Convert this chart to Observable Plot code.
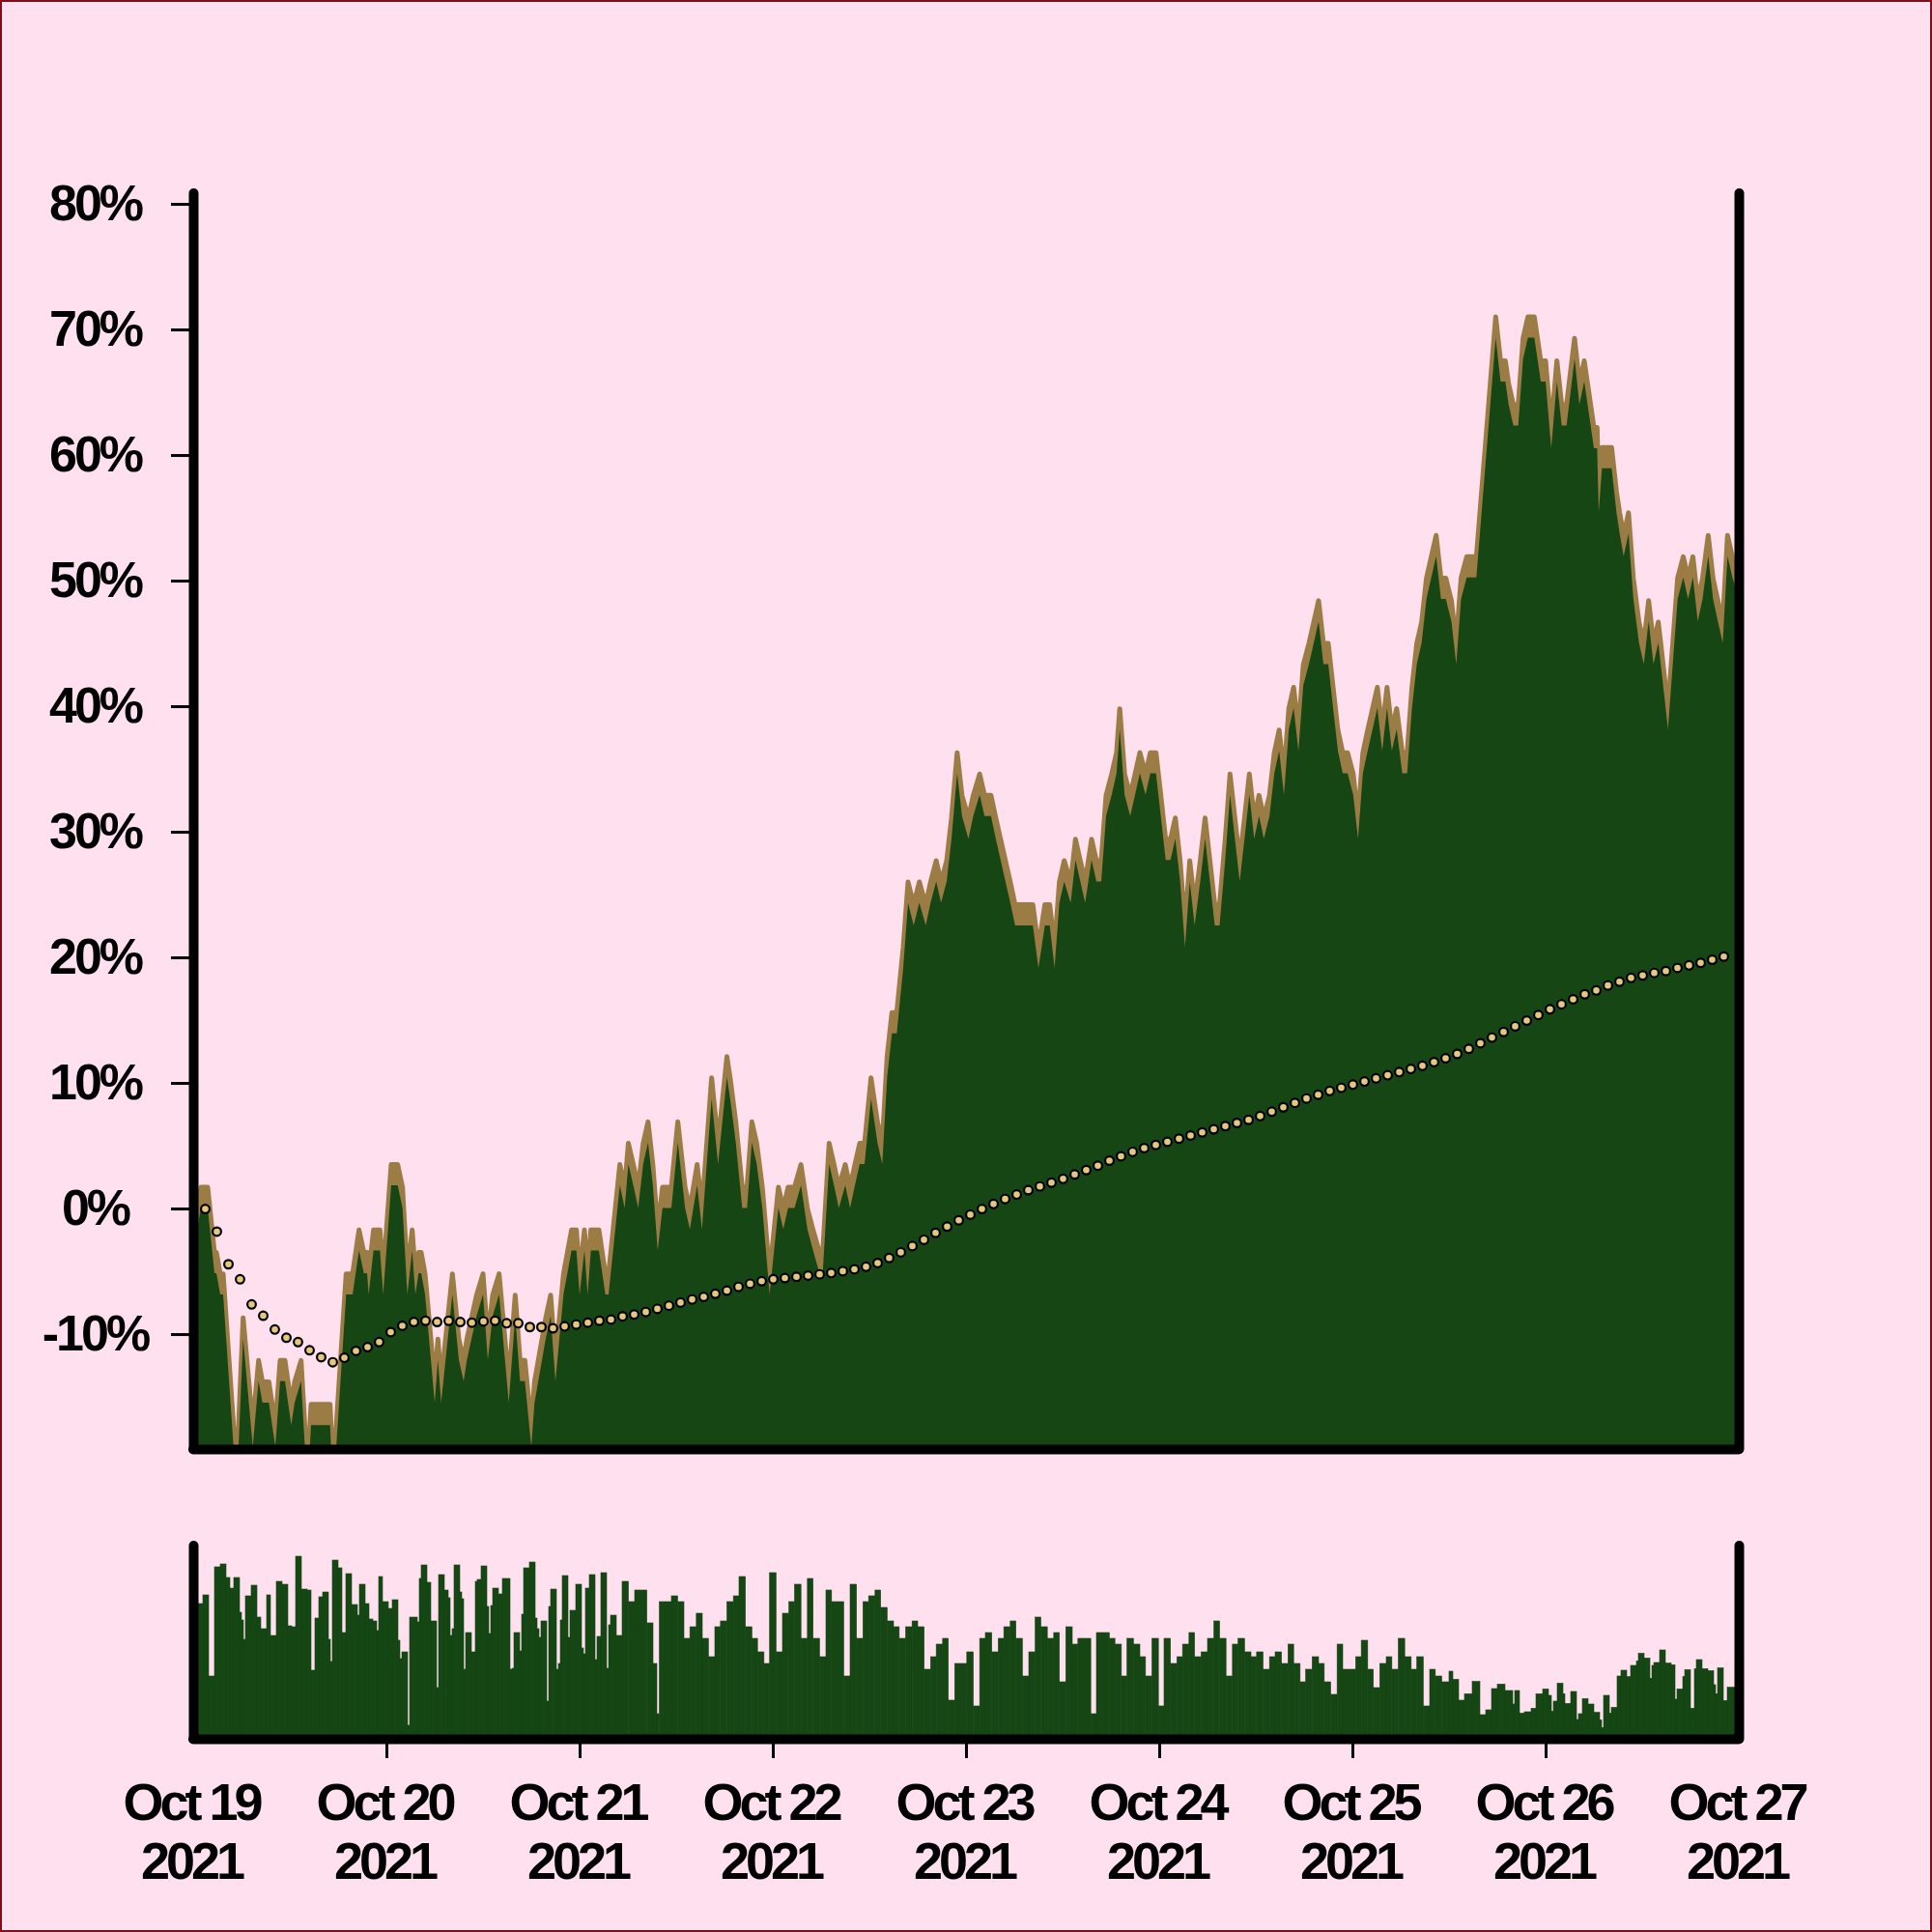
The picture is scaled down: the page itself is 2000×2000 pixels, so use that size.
<!DOCTYPE html>
<html><head><meta charset="utf-8">
<script src="https://cdn.jsdelivr.net/npm/d3@7"></script>
<script src="https://cdn.jsdelivr.net/npm/@observablehq/plot@0.6"></script>
<style>
html,body{margin:0;padding:0;background:#ffe0ef;}
#chart{position:relative;width:2000px;height:2000px;box-sizing:border-box;border:2px solid #7d0f1c;background:#ffe0ef;overflow:hidden;}
#main{position:absolute;left:-2px;top:-2px;}
#vol{position:absolute;left:-2px;top:1528px;}
</style></head>
<body><div id="chart"><div id="main"></div><div id="vol"></div></div>
<script>
// ---- data (hours after 2021-10-19 00:00 UTC) ----
const priceHours = [0,0.96,1.8,2.64,2.88,3.36,3.72,5.4,6.2,7.4,8.12,8.6,9.4,10.2,10.8,11.4,12.18,12.6,13.4,14.2,14.64,17.0,17.4,19.0,19.8,20.6,21.2,21.6,21.8,22.4,23.2,23.6,24.6,25.4,26.0,26.6,27.2,27.6,28.0,28.32,28.8,30.0,30.4,30.8,32.2,33.0,33.6,34.0,35.2,36.0,36.6,37.2,38.0,39.2,40.0,40.6,41.2,42.0,42.4,43.8,44.4,45.0,46.0,47.0,47.6,48.0,48.6,49.0,49.4,50.4,51.2,51.6,53.0,53.6,
54.06,54.67,55.28,55.9,56.5,57.1,57.7,58.3,59.4,60.2,61.1,61.7,62.6,63.2,64.4,65.2,66.3,66.7,67.4,68.2,68.8,69.4,70.0,70.7,71.6,72.7,73.3,73.9,74.7,75.5,76.3,77.0,77.8,78.2,79.0,79.6,80.2,81.0,81.6,82.2,82.8,83.4,84.2,85.0,85.6,86.2,86.8,87.4,88.2,88.8,89.5,90.2,91.0,91.6,92.3,92.9,93.6,94.2,94.9,95.5,96.3,96.9,97.7,98.3,99.1,99.7,100.3,100.9,101.5,102.1,104.3,105.0,105.8,106.4,107.0,107.6,108.2,109.0,109.6,110.2,110.8,111.6,112.2,112.8,113.4,114.1,114.7,115.1,115.7,116.4,117.0,117.6,118.3,118.9,119.6,120.2,120.8,121.4,122.0,122.6,123.2,123.8,124.4,125.1,125.7,126.3,126.9,127.5,128.2,128.8,129.4,130.0,130.6,131.2,131.8,132.4,133.0,133.7,134.3,134.9,135.5,136.1,136.7,137.3,137.9,138.6,139.2,139.8,140.4,141.0,141.6,142.2,142.8,143.4,144.1,144.7,145.3,145.9,146.5,147.1,147.7,148.3,148.9,149.5,150.2,150.8,151.4,152.0,152.6,153.2,153.8,154.4,155.0,155.6,156.3,156.9,157.5,158.2,159.4,161.8,162.4,163.0,163.4,164.0,164.6,165.2,165.8,166.6,167.4,168.0,168.7,169.4,170.0,170.6,171.6,172.2,172.8,174.0,174.4,174.6,175.0,176.2,176.8,177.2,177.7,178.3,178.9,179.6,180.2,180.8,181.4,182.0,182.6,183.2,183.8,184.4,185.1,185.7,186.3,186.9,187.5,188.2,188.8,189.4,190.0,190.6,191.2,192.0];
const priceReturns = [-1.7,1.7,1.7,-3.5,-3.5,-5.2,-5.2,-21,-8.7,-17.3,-12.1,-13.8,-13.8,-17.3,-12.1,-12.1,-15.6,-13.8,-12.1,-21,-15.6,-15.6,-21,-5.2,-5.2,-1.7,-3.5,-3.5,-5.2,-1.7,-1.7,-5.2,3.5,3.5,1.7,-5.2,-1.7,-5.2,-3.5,-3.5,-5.2,-13.8,-10.4,-13.8,-5.2,-10.4,-12.1,-10.4,-6.9,-5.2,-10.4,-6.9,-5.2,-13.8,-6.9,-12.1,-12.1,-17.3,-13.8,-8.7,-6.9,-12.1,-5.2,-1.7,-1.7,-5.2,-1.7,-5.2,-1.7,-1.7,-5.2,-5.2,3.5,1.7,
5.2,3.5,1.7,5.2,6.9,3.5,-1.7,1.7,1.7,6.9,1.7,0,3.5,0,10.4,5.2,12.1,10.4,6.9,1.7,1.7,6.9,5.2,1.7,-5.2,1.7,0,1.7,1.7,3.5,0,-1.7,-3.5,-3.5,5.2,3.5,1.7,3.5,1.7,3.5,5.2,5.2,10.4,6.9,5.2,12.1,15.6,15.6,20.8,26.0,24.2,26.0,24.2,26.0,27.7,26.0,27.7,31.1,36.3,32.9,31.1,32.9,34.6,32.9,32.9,31.1,29.4,27.7,26.0,24.2,24.2,20.8,24.2,24.2,20.8,26.0,27.7,26.0,29.4,27.7,26.0,29.4,27.7,27.7,32.9,34.6,36.3,39.8,34.6,32.9,34.6,36.3,34.6,36.3,36.3,32.9,29.4,29.4,31.1,27.7,22.5,27.7,24.2,27.7,31.1,27.7,24.2,24.2,29.4,34.6,31.1,27.7,31.1,34.6,31.1,32.9,31.1,32.9,36.3,38.1,34.6,39.8,41.5,38.1,43.3,45.0,46.7,48.4,45.0,45.0,41.5,38.1,36.3,36.3,34.6,31.1,36.3,38.1,39.8,41.5,38.1,41.5,38.1,39.8,36.3,36.3,41.5,45.0,46.7,50.2,51.9,53.6,50.2,50.2,48.4,45.0,50.2,51.9,51.9,71.0,67.5,67.5,65.7,64.0,64.0,69.3,71.0,71.0,67.5,67.5,62.2,67.5,64.0,64.0,69.3,65.7,67.5,62.2,62.2,57.1,60.6,60.6,57.1,55.4,53.6,55.4,50.2,46.7,45.0,48.4,45.0,46.7,43.3,39.8,45.0,50.2,51.9,50.2,51.9,48.4,50.2,53.6,50.2,48.4,46.7,53.6,51.9,50.2];

// dotted average line: one value every 1.44 h starting at 1.44 h
const avgStartHour = 1.44, avgStepHours = 1.44;
const avgReturns = [0.0,-1.8,-4.4,-5.6,-7.6,-8.5,-9.6,-10.25,-10.6,-11.25,-11.8,-12.2,-11.85,-11.3,-11.0,-10.6,-9.8,-9.3,-9.0,-8.9,-9.0,-8.9,-9.0,-9.05,-8.95,-8.9,-9.1,-9.1,-9.4,-9.4,-9.5,-9.35,-9.2,-9.05,-8.9,-8.8,-8.55,
-8.4,-8.2,-7.95,-7.7,-7.45,-7.2,-7.0,-6.75,-6.5,-6.2,-5.95,-5.75,-5.6,-5.5,-5.4,-5.3,-5.2,-5.1,-4.95,-4.8,-4.6,-4.3,-3.9,-3.45,-2.95,-2.45,-1.9,-1.4,-0.9,-0.45,0.0,0.4,0.8,1.15,1.5,1.8,2.1,2.4,2.75,3.1,3.45,3.85,4.2,4.55,4.85,5.1,5.35,5.6,5.85,6.1,6.35,6.6,6.85,7.1,7.4,7.75,8.1,8.45,8.8,9.1,9.4,9.65,9.9,10.15,10.4,10.65,10.9,11.15,11.4,11.7,12.0,12.35,12.75,13.2,13.65,14.1,14.55,15.0,15.45,
15.9,16.3,16.7,17.1,17.4,17.8,18.1,18.4,18.6,18.8,18.95,19.2,19.4,19.6,19.85,20.1];

// volume (relative units, 0-100), each value lasts until the next start hour
const volumeHours = [0,1.2,1.92,2.64,3.36,4.08,4.56,5.04,5.76,6.0,6.24,6.48,7.2,7.92,8.4,9.12,9.6,10.32,11.04,11.76,12.24,12.72,13.44,14.16,14.64,15.12,15.6,16.08,16.8,17.04,17.28,18.0,18.48,18.96,19.68,20.4,20.64,21.36,21.84,22.32,22.8,23.04,23.52,24.24,24.72,25.44,25.68,25.92,26.64,26.88,27.84,28.08,28.32,29.04,29.52,30.24,30.48,31.2,31.68,31.92,32.16,32.4,33.12,33.36,33.6,33.84,34.56,35.04,35.28,35.76,36.48,36.72,36.96,37.2,37.92,38.4,39.36,39.6,39.84,40.56,40.8,41.04,41.76,42.48,42.72,42.96,43.2,43.92,44.16,44.4,45.12,45.36,45.6,45.84,46.56,46.8,47.52,48.24,48.48,48.72,49.2,49.92,50.16,50.64,51.36,51.6,51.84,52.56,53.28,
54.06,54.84,56.35,57.12,57.6,57.9,59.4,60.18,60.96,61.7,62.5,63.24,64.0,64.8,65.5,66.3,67.1,67.8,68.6,69.4,70.1,70.9,71.6,72.4,73.2,74.0,74.7,75.5,76.3,77.0,77.8,78.6,79.3,80.8,81.6,82.4,83.2,83.9,84.7,85.4,86.2,87.0,87.7,88.5,89.3,90.0,90.8,91.6,92.3,93.1,93.8,94.6,96.1,96.9,97.7,98.4,99.2,100.0,100.7,101.5,102.2,103.0,103.8,104.6,105.3,106.1,106.9,107.6,108.4,109.2,109.9,111.5,112.2,113.8,114.5,115.3,116.0,116.8,117.6,118.3,119.1,119.9,120.6,121.4,122.2,122.9,123.7,124.4,125.2,126.0,126.8,127.5,128.3,129.1,129.8,130.6,131.4,132.1,132.9,133.7,134.4,135.2,136.0,136.7,137.5,138.2,139.0,139.8,140.5,141.3,142.1,142.8,144.4,145.1,145.9,146.6,147.4,148.2,148.9,149.7,150.5,151.3,152.0,152.8,153.6,154.3,155.1,
156.0,156.48,157.2,157.92,158.88,159.84,160.56,161.28,162.0,162.96,163.92,164.16,164.76,165.36,166.2,166.8,167.64,168.36,168.72,168.96,169.44,170.16,170.4,171.12,171.84,172.08,172.56,173.28,174.0,174.72,174.96,175.2,175.92,176.16,176.88,177.36,178.08,178.56,179.28,179.52,180.24,180.96,181.2,181.44,182.16,182.88,183.6,184.08,184.32,185.04,185.28,186.0,186.48,186.72,187.44,188.16,188.88,189.12,189.36,190.08,190.56];
const volumeValues = [70,74.5,32.5,89,90.5,83.5,78,83.5,65.5,61.5,51.5,74,79.5,63,57,74.5,53.5,81.5,80,58.5,58,94.5,77.5,77,35.5,62.5,73.5,76,51.5,40,92.5,88.5,55,85.5,69.5,64,80,70,62,61,56,84,71,67.5,72,51,41.5,45,7,63,60.5,83,90,81,61,26.5,85,77,73,53.5,57,90,76,72.5,36,55,45,81.5,82.5,89.5,68.5,54.5,69,78,75,83,36,36.5,55,45.5,64.5,88.5,91.5,62.5,57,52.5,61,19.5,68.5,77.5,36,39,61.5,84.5,52.5,66.5,80,47,44,78,85,41,53,86,36.5,59,64,53.5,81.5,
71,77,60,39,13,71,74,71,52,58,65,52,42.5,58,61,71,74,84,58,52,45,39,86,45,65,71,80,52,83,52,42.5,77,71,32.5,80,52,71,74,77,68,61,58,52,58,61,58,36,42.5,49,52,20,39,45,17,52,55,45,52,58,61,52,32.5,45,63,58,52,55,29.5,58,49,52,13,55,52,49,32.5,52,49,42.5,32.5,52,17,52,39,42.5,49,55,42.5,45,52,61,52,32.5,49,52,45,42.5,45,36,42.5,45,39,49,39,29.5,36,42.5,39,29.5,23,49,36,42.5,51,36,26.5,39,42.5,36,52,42.5,36,42.5,17,36,32.5,29.5,
35,30.8,20,23.3,29.7,12.5,15,26,28.3,25,18,25,13.3,14,15.8,23.3,25.8,22.5,14.2,19.5,28.8,23.3,18.3,24.5,10,13,20.8,18,13.7,9.7,5.8,22.5,13.3,16.3,32.5,35.5,32.2,38,40.3,44.3,41.8,31.3,38,39.5,46,39.2,38.3,20.5,25.8,32.2,35.8,15.8,36.2,41,36.3,35.3,28,23.3,36.7,19.8,26.7];

const yTicks = [-10,0,10,20,30,40,50,60,70,80];
const tickDays = [19,20,21,22,23,24,25,26,27];
const yDomain = [-19.15, 80.85];
const totalHours = 192;

// ---- style ----
const green = "#154614", tan = "#9b7c45", dotFill = "#e7c77c", ink = "#000";
const band = 1.65;
const fontFamily = "'Liberation Sans', Arial, Helvetica, sans-serif";

const start = Date.UTC(2021, 9, 19);
const at = h => new Date(start + h * 3600e3);
const xDomain = [at(0), at(totalHours)];

const price = priceHours.map((h, i) => ({date: at(h), v: priceReturns[i]}));
const avg = avgReturns.map((v, i) => ({date: at(avgStartHour + i * avgStepHours), v}));
const volume = volumeHours.map((h, i) => ({
  x1: at(h), x2: at(i + 1 < volumeHours.length ? volumeHours[i + 1] : totalHours), v: volumeValues[i]
}));
const dayDates = tickDays.map(d => new Date(Date.UTC(2021, 9, d)));

const mainPlot = Plot.plot({
  width: 2000, height: 1520,
  marginTop: 200, marginBottom: 20, marginLeft: 200, marginRight: 200,
  style: {background: "transparent", maxWidth: "none", fontFamily, fontWeight: "bold", fontSize: "52px", letterSpacing: "-3px", color: ink, overflow: "visible"},
  x: {type: "utc", domain: xDomain, axis: null},
  y: {domain: yDomain},
  marks: [
    Plot.areaY(price, {x: "date", y1: yDomain[0], y2: "v", fill: tan, stroke: tan, strokeWidth: 5, strokeLinejoin: "round", clip: true}),
    Plot.areaY(price, {x: "date", y1: yDomain[0], y2: d => d.v - band, fill: green, clip: true}),
    Plot.dot(avg, {x: "date", y: "v", r: 4.4, fill: dotFill, stroke: ink, strokeWidth: 2.2}),
    Plot.axisY({ticks: yTicks, tickSize: 22, tickPadding: 79, textAnchor: "middle", dx: -1, strokeWidth: 3, tickFormat: d => d + "%", fontSize: 52, fontWeight: "bold", label: null}),
    Plot.ruleX(xDomain, {stroke: ink, strokeWidth: 10, strokeLinecap: "round"}),
    Plot.ruleY([yDomain[0]], {stroke: ink, strokeWidth: 10, strokeLinecap: "round"})
  ]
});
document.getElementById("main").appendChild(mainPlot);

const fmtDay = d3.utcFormat("%b %-d"), fmtYear = d3.utcFormat("%Y");
const volPlot = Plot.plot({
  width: 2000, height: 470,
  marginTop: 70, marginBottom: 200, marginLeft: 200, marginRight: 200,
  style: {background: "transparent", maxWidth: "none", fontFamily, fontWeight: "bold", fontSize: "54px", letterSpacing: "-4px", color: ink, overflow: "visible"},
  x: {type: "utc", domain: xDomain},
  y: {domain: [0, 100], axis: null},
  marks: [
    Plot.rectY(volume, {x1: "x1", x2: "x2", y: "v", fill: green, stroke: green, strokeWidth: 0.6, inset: 0}),
    Plot.axisX(dayDates.slice(1, -1), {tickSize: 20, strokeWidth: 3, tickFormat: () => "", label: null}),
    Plot.axisX({ticks: dayDates, tickSize: 0, tickPadding: 40, dx: -2.5, tickFormat: d => fmtDay(d) + "\n" + fmtYear(d), fontSize: 54, fontWeight: "bold", lineHeight: 1.13, label: null}),
    Plot.ruleX(xDomain, {stroke: ink, strokeWidth: 10, strokeLinecap: "round"}),
    Plot.ruleY([0], {stroke: ink, strokeWidth: 10, strokeLinecap: "round"})
  ]
});
document.getElementById("vol").appendChild(volPlot);
</script></body></html>
